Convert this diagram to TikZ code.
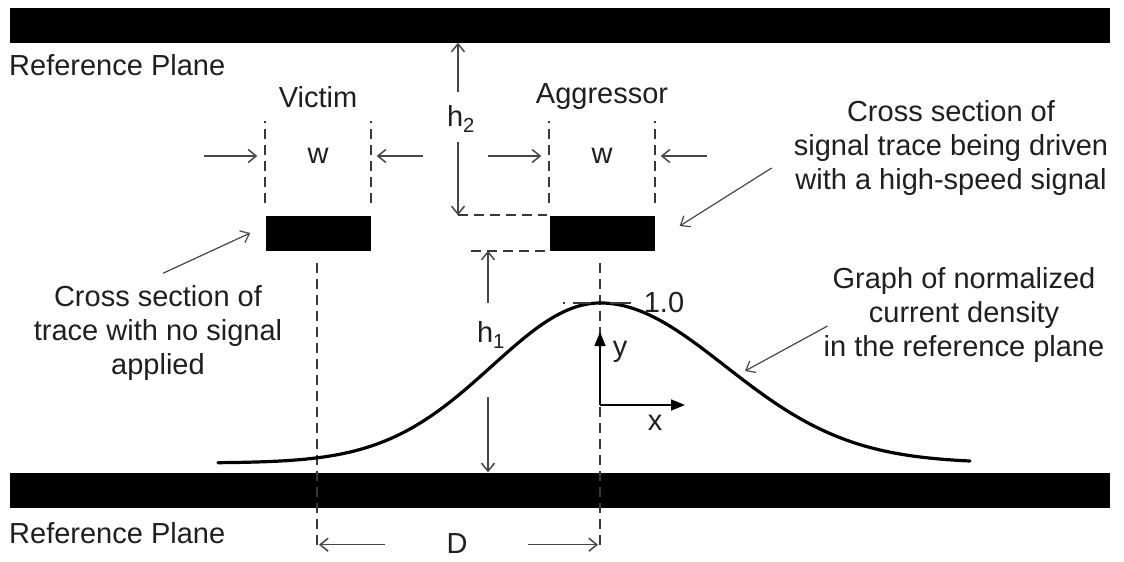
\documentclass[tikz,border=0pt]{standalone}
\usepackage{fontspec}
\setmainfont{Liberation Sans}
\usetikzlibrary{arrows.meta,positioning,calc}

\begin{document}
\begin{tikzpicture}[
  x=1pt, y=-1pt,
  plane/.style={fill=black, inner sep=0pt, minimum width=1100pt, minimum height=35pt},
  trace/.style={fill=black, inner sep=0pt, minimum width=105pt, minimum height=35pt},
  lbl/.style={inner sep=1pt, text=black!88, font=\fontsize{29}{34}\selectfont},
  note/.style={lbl, align=center},
  dim/.style={->, draw=black!72, line width=1.5pt},
  guide/.style={draw=black!78, line width=1.8pt, dash pattern=on 10pt off 6pt},
  axis/.style={-{Triangle[length=14pt,width=11pt]}, line width=1.6pt},
  curve/.style={line width=3.2pt, line cap=round},
  >={Straight Barb[length=8pt,width=13pt]}
]
\useasboundingbox (0,0) rectangle (1124,562);

\node[plane] (top) at (560,25) {};
\node[plane] (bot) at (560,490) {};
\node[lbl, anchor=west] (toplbl) at (8,65) {Reference Plane};
\node[lbl, anchor=west] (botlbl) at (8,533) {Reference Plane};

\node[trace] (vic) at (318,233) {};
\node[trace] (agg) at (602,233) {};
\node[lbl] (viclbl) at (318,97) {Victim};
\node[lbl] (agglbl) at (602,97) {Aggressor};

\foreach \t in {vic,agg}
  \foreach \a in {north west,north east}
    \draw[guide] ([yshift=12pt]\t.\a) -- ([yshift=94pt]\t.\a);

\node[lbl] (vicw) at (318,156) {w};
\node[lbl] (aggw) at (602,156) {w};
\draw[dim] ($(vic.west|-vicw)+(-61,0)$) -- ($(vic.west|-vicw)+(-8,0)$);
\draw[dim] ($(vic.east|-vicw)+(52,0)$) -- ($(vic.east|-vicw)+(6,0)$);
\draw[dim] ($(agg.west|-aggw)+(-61,0)$) -- ($(agg.west|-aggw)+(-8,0)$);
\draw[dim] ($(agg.east|-aggw)+(52,0)$) -- ($(agg.east|-aggw)+(6,0)$);

\node[lbl] (h2) at (461,119) {h\textsubscript{2}};
\coordinate (h2up) at ($(h2)+(-3,-27)$);
\coordinate (h2dn) at ($(h2)+(-3,23)$);
\draw[dim] (h2up) -- (h2up |- top.south);
\draw[dim] (h2dn) -- (h2dn |- agg.north);
\draw[guide] (h2dn |- agg.north) -- ($(agg.north west)+(-2,0)$);

\node[lbl] (h1) at (491,335) {h\textsubscript{1}};
\coordinate (h1up) at ($(h1)+(-3,-32)$);
\coordinate (h1dn) at ($(h1)+(-3,62)$);
\draw[guide] ($(agg.south west)+(-78,0)$) -- ($(agg.south west)+(-2,0)$);
\draw[dim] (h1up) -- (h1up |- agg.south);
\draw[dim] (h1dn) -- (h1dn |- bot.north);

\coordinate (vc) at ($(vic.south)+(-1,296)$);
\coordinate (ac) at ($(agg.south)+(-2,296)$);
\draw[guide] ($(vic.south)+(-1,12)$) -- (vc);
\draw[guide] ($(agg.south)+(-2,12)$) -- (ac);
\node[lbl] (D) at (457,544) {D};
\draw[dim] ($(vc)+(68,-2)$) -- ($(vc)+(2,-2)$);
\draw[dim] ($(ac)+(-72,-2)$) -- ($(ac)+(-2,-2)$);

\draw[curve] plot[domain=-3.82:0, samples=80, smooth] ({600+100*\x},{463-160*exp(-(\x*\x)/(2*1.08*1.08))});
\draw[curve] plot[domain=0:3.70, samples=80, smooth] ({600+100*\x},{463-160*exp(-(\x*\x)/(2*1.25*1.25))});

\node[lbl] (one) at (664,303) {1.0};
\draw[guide, line width=1.2pt, dash pattern=on 2pt off 8pt on 18pt off 19pt on 21pt off 20pt]
  ($(one.west)+(-80,0)$) -- ($(one.west)+(-11,0)$);

\coordinate (o) at (ac |- 0,405);
\coordinate (yend) at ($(o)+(0,-73)$);
\coordinate (xend) at ($(o)+(85,0)$);
\draw[axis] (o) -- (yend);
\draw[axis] (o) -- (xend);
\node[lbl] (ylbl) at (620,352) {y};
\node[lbl] (xlbl) at (655,423) {x};

\node[note] (vicnote) at (158,333) {Cross section of\\trace with no signal\\applied};
\node[note] (aggnote) at (951,148) {Cross section of\\signal trace being driven\\with a high-speed signal};
\node[note] (graphnote) at (964,315) {Graph of normalized\\current density\\in the reference plane};
\coordinate (gtip) at (745,371);

\draw[dim, line width=1.2pt] ($(vicnote.north)+(5,-11)$) -- ($(vic.west)+(-15,0)$);
\draw[dim, line width=1.2pt] ($(aggnote.west)+(-21,20)$) -- ($(agg.east)+(25,-7)$);
\draw[dim, line width=1.2pt] ($(graphnote.west)+(5,11)$) -- (gtip);
\end{tikzpicture}
\end{document}
